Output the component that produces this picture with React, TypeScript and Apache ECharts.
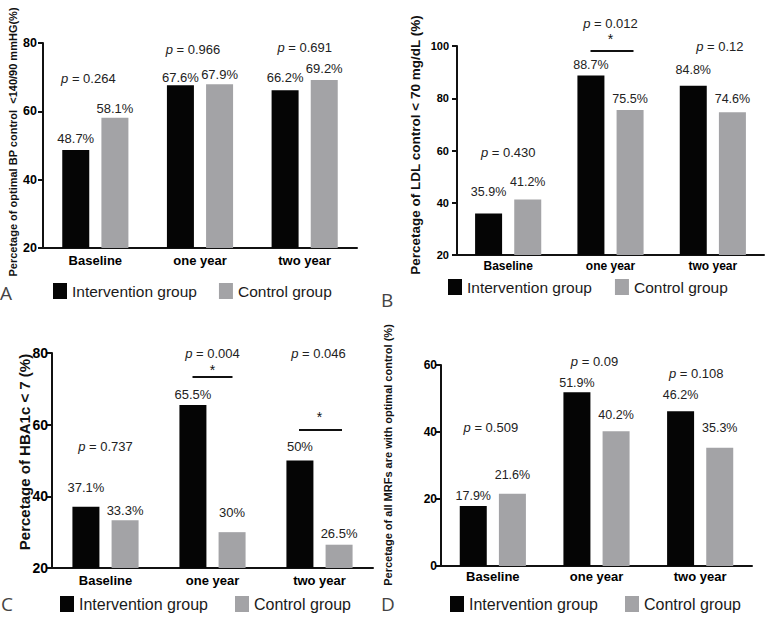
import React, { useEffect, useRef } from "react";
import * as echarts from "echarts";

// ---------- data ----------
const categories = ["Baseline", "one year", "two year"];

const interventionA = [48.7, 67.6, 66.2];
const controlA = [58.1, 67.9, 69.2];
const pValuesA = ["0.264", "0.966", "0.691"];

const interventionB = [35.9, 88.7, 84.8];
const controlB = [41.2, 75.5, 74.6];
const pValuesB = ["0.430", "0.012", "0.12"];

const interventionC = [37.1, 65.5, 50];
const controlC = [33.3, 30, 26.5];
const pValuesC = ["0.737", "0.004", "0.046"];

const interventionD = [17.9, 51.9, 46.2];
const controlD = [21.6, 40.2, 35.3];
const pValuesD = ["0.509", "0.09", "0.108"];

// significance markers (true = "*" with bar)
const sigA = [false, false, false];
const sigB = [false, true, false];
const sigC = [false, true, true];
const sigD = [false, false, false];

// ---------- annotation layout (axis units / pixels) ----------
const pLabelYA = [69.5, 78.2, 78.8];
const pLabelYB = [59.4, 108.6, 100];
const pLabelYC = [53.8, 80, 80];
const pLabelYD = [41.2, 60.9, 57.6];
const pLabelDxA = [-7, -7, 0];
const pLabelDxB = [0, 0, 7];
const pLabelDxC = [0, 0, -1];
const pLabelDxD = [-2, -2, -4];
const starYB = [0, 102.8, 0];
const lineYB = [0, 98.1, 0];
const starYC = [0, 75.3, 62.1];
const lineYC = [0, 73.3, 58.5];
const lineWB = [0, 43, 0];
const lineWC = [0, 40, 43];
const lineDxB = [0, 1.5, 0];
const lineDxC = [0, 0, 1];

const labelDistIntA = [5, 1, 6];
const labelDistCtrlA = [3, 3, 5];
const labelDistIntB = [15, 4, 9];
const labelDistCtrlB = [11, 5, 7];
const labelDistIntC = [13, 4, 8];
const labelDistCtrlC = [3, 13, 5];
const labelDistIntD = [4, 3, 10];
const labelDistCtrlD = [12, 10, 13];

const BLACK = "#050505";
const GREY = "#a3a3a6";
const TEXT = "#222222";
const FONT = '"Liberation Sans", Arial, Helvetica, sans-serif';

type Panel = {
  inter: number[];
  ctrl: number[];
  pv: string[];
  pY: number[];
  pDx: number[];
  sig: boolean[];
  starY: number[];
  lineY: number[];
  lineW: number[];
  lineDx: number[];
  dInt: number[];
  dCtrl: number[];
  grid: { left: number; top: number; width: number; height: number };
  yMin: number;
  yMax: number;
  tickFont: number;
  tickMargin: number;
  catFont: number;
  catMargin: number;
  valFont: number;
  legend: { left: number; top: number; gap: number; font: number };
};

const panels: Panel[] = [
  {
    inter: interventionA, ctrl: controlA, pv: pValuesA, pY: pLabelYA, pDx: pLabelDxA,
    sig: sigA, starY: [0, 0, 0], lineY: [0, 0, 0], lineW: [0, 0, 0], lineDx: [0, 0, 0],
    dInt: labelDistIntA, dCtrl: labelDistCtrlA,
    grid: { left: 43, top: 43, width: 314, height: 205 },
    yMin: 20, yMax: 80, tickFont: 12.5, tickMargin: 6, catFont: 13, catMargin: 6, valFont: 13,
    legend: { left: 53, top: 283, gap: 22, font: 15.5 },
  },
  {
    inter: interventionB, ctrl: controlB, pv: pValuesB, pY: pLabelYB, pDx: pLabelDxB,
    sig: sigB, starY: starYB, lineY: lineYB, lineW: lineWB, lineDx: lineDxB,
    dInt: labelDistIntB, dCtrl: labelDistCtrlB,
    grid: { left: 457, top: 46, width: 307, height: 209 },
    yMin: 20, yMax: 100, tickFont: 11, tickMargin: 8, catFont: 12, catMargin: 5, valFont: 12.5,
    legend: { left: 448, top: 279, gap: 23, font: 15.5 },
  },
  {
    inter: interventionC, ctrl: controlC, pv: pValuesC, pY: pLabelYC, pDx: pLabelDxC,
    sig: sigC, starY: starYC, lineY: lineYC, lineW: lineWC, lineDx: lineDxC,
    dInt: labelDistIntC, dCtrl: labelDistCtrlC,
    grid: { left: 52, top: 353, width: 321, height: 215 },
    yMin: 20, yMax: 80, tickFont: 14, tickMargin: 4, catFont: 13, catMargin: 6, valFont: 13,
    legend: { left: 60, top: 596, gap: 27, font: 16 },
  },
  {
    inter: interventionD, ctrl: controlD, pv: pValuesD, pY: pLabelYD, pDx: pLabelDxD,
    sig: sigD, starY: [0, 0, 0], lineY: [0, 0, 0], lineW: [0, 0, 0], lineDx: [0, 0, 0],
    dInt: labelDistIntD, dCtrl: labelDistCtrlD,
    grid: { left: 441, top: 365, width: 311, height: 201 },
    yMin: 0, yMax: 60, tickFont: 12, tickMargin: 4, catFont: 13, catMargin: 4, valFont: 12.5,
    legend: { left: 450, top: 596, gap: 27, font: 16 },
  },
];

const yTitles = [
  { text: "Percetage of optimal BP control  <140/90 mmHG(%)", x: 13, y: 142, size: 11 },
  { text: "Percetage of LDL control < 70 mg/dL (%)", x: 415, y: 145, size: 13.5 },
  { text: "Percetage of HBA1c < 7 (%)", x: 24, y: 452, size: 15 },
  { text: "Percetage of all MRFs are with optimal control (%)", x: 388, y: 455, size: 11 },
];

const panelLetters = [
  { text: "A", x: 0, y: 293 },
  { text: "B", x: 381, y: 300 },
  { text: "C", x: 1, y: 604 },
  { text: "D", x: 381, y: 604 },
];

function buildOption() {
  const grid: any[] = [];
  const xAxis: any[] = [];
  const yAxis: any[] = [];
  const series: any[] = [];
  const legend: any[] = [];
  const graphic: any[] = [];

  panels.forEach((p, i) => {
    grid.push({ ...p.grid, containLabel: false });
    xAxis.push({
      type: "category",
      gridIndex: i,
      data: categories,
      axisLine: { lineStyle: { color: "#111", width: 2 } },
      axisTick: { alignWithLabel: true, length: 5, lineStyle: { color: "#111", width: 2 } },
      axisLabel: {
        color: "#000",
        fontWeight: "bold",
        fontSize: p.catFont,
        fontFamily: FONT,
        margin: p.catMargin,
      },
    });
    yAxis.push({
      type: "value",
      gridIndex: i,
      min: p.yMin,
      max: p.yMax,
      interval: 20,
      splitLine: { show: false },
      axisLine: { show: true, lineStyle: { color: "#111", width: 2 } },
      axisTick: { show: true, length: 5, lineStyle: { color: "#111", width: 2 } },
      axisLabel: {
        color: "#000",
        fontWeight: "bold",
        fontSize: p.tickFont,
        fontFamily: FONT,
        margin: p.tickMargin,
      },
    });

    const mkBar = (name: string, vals: number[], dists: number[], color: string) => ({
      type: "bar",
      name,
      xAxisIndex: i,
      yAxisIndex: i,
      barWidth: 27,
      barGap: "45%",
      itemStyle: { color },
      data: vals.map((v, k) => ({
        value: v,
        label: { distance: dists[k] },
      })),
      label: {
        show: true,
        position: "top",
        formatter: "{c}%",
        color: TEXT,
        fontSize: p.valFont,
        fontFamily: FONT,
      },
    });
    series.push(mkBar("Intervention group", p.inter, p.dInt, BLACK));
    series.push(mkBar("Control group", p.ctrl, p.dCtrl, GREY));

    // p-value labels
    series.push({
      type: "scatter",
      name: "p" + i,
      xAxisIndex: i,
      yAxisIndex: i,
      silent: true,
      clip: false,
      symbolSize: 0,
      itemStyle: { color: TEXT, opacity: 1 },
      data: categories.map((c, k) => ({
        value: [c, p.pY[k]],
        label: { offset: [p.pDx[k], 0] },
      })),
      label: {
        show: true,
        position: "inside",
        formatter: (d: any) => "{i|p} = " + p.pv[d.dataIndex],
        color: TEXT,
        opacity: 1,
        textBorderWidth: 0,
        fontSize: 13,
        fontFamily: FONT,
        rich: {
          i: { fontStyle: "italic", fontSize: 13, fontFamily: FONT, color: TEXT, textBorderWidth: 0 },
        },
      },
    });

    // significance bars & stars
    const sigIdx = categories.map((c, k) => k).filter((k) => p.sig[k]);
    if (sigIdx.length) {
      series.push({
        type: "scatter",
        name: "sigline" + i,
        xAxisIndex: i,
        yAxisIndex: i,
        silent: true,
        clip: false,
        symbol: "rect",
        itemStyle: { color: "#111", opacity: 1 },
        data: sigIdx.map((k) => ({
          value: [categories[k], p.lineY[k]],
          symbolSize: [p.lineW[k], 2],
          symbolOffset: [p.lineDx[k], 0],
        })),
      });
      series.push({
        type: "scatter",
        name: "sigstar" + i,
        xAxisIndex: i,
        yAxisIndex: i,
        silent: true,
        clip: false,
        symbolSize: 0,
        itemStyle: { color: "#111", opacity: 1 },
        data: sigIdx.map((k) => ({ value: [categories[k], p.starY[k]] })),
        label: {
          show: true,
          position: "inside",
          formatter: "*",
          color: "#111",
          opacity: 1,
          textBorderWidth: 0,
          fontSize: 14,
          fontFamily: FONT,
        },
      });
    }

    legend.push({
      left: p.legend.left,
      top: p.legend.top,
      orient: "horizontal",
      padding: 0,
      itemWidth: 14,
      itemHeight: 16,
      itemGap: p.legend.gap,
      selectedMode: false,
      icon: "rect",
      data: ["Intervention group", "Control group"],
      textStyle: { fontSize: p.legend.font, color: "#1a1a1a", fontFamily: FONT },
    });
  });

  yTitles.forEach((t) => {
    graphic.push({
      type: "text",
      x: t.x,
      y: t.y,
      rotation: Math.PI / 2,
      silent: true,
      style: {
        text: t.text,
        align: "center",
        verticalAlign: "middle",
        fontSize: t.size,
        fontWeight: "bold",
        fontFamily: FONT,
        fill: "#111",
      },
    });
  });

  panelLetters.forEach((l) => {
    graphic.push({
      type: "text",
      x: l.x,
      y: l.y,
      silent: true,
      style: {
        text: l.text,
        align: "left",
        verticalAlign: "middle",
        fontSize: 19,
        lineHeight: 19,
        fontFamily: '"Open Sans", "DejaVu Sans", sans-serif',
        fill: "#444",
      },
    });
  });

  return {
    animation: false,
    backgroundColor: "#ffffff",
    grid,
    xAxis,
    yAxis,
    legend,
    series,
    graphic,
  };
}

export default function App() {
  const ref = useRef<HTMLDivElement>(null);
  useEffect(() => {
    if (!ref.current) return;
    const chart = echarts.init(ref.current, undefined, { renderer: "svg" });
    chart.setOption(buildOption() as any);
    return () => chart.dispose();
  }, []);
  return (
    <div
      ref={ref}
      style={{ position: "absolute", left: 0, top: 0, width: 767, height: 617, background: "#fff" }}
    />
  );
}
